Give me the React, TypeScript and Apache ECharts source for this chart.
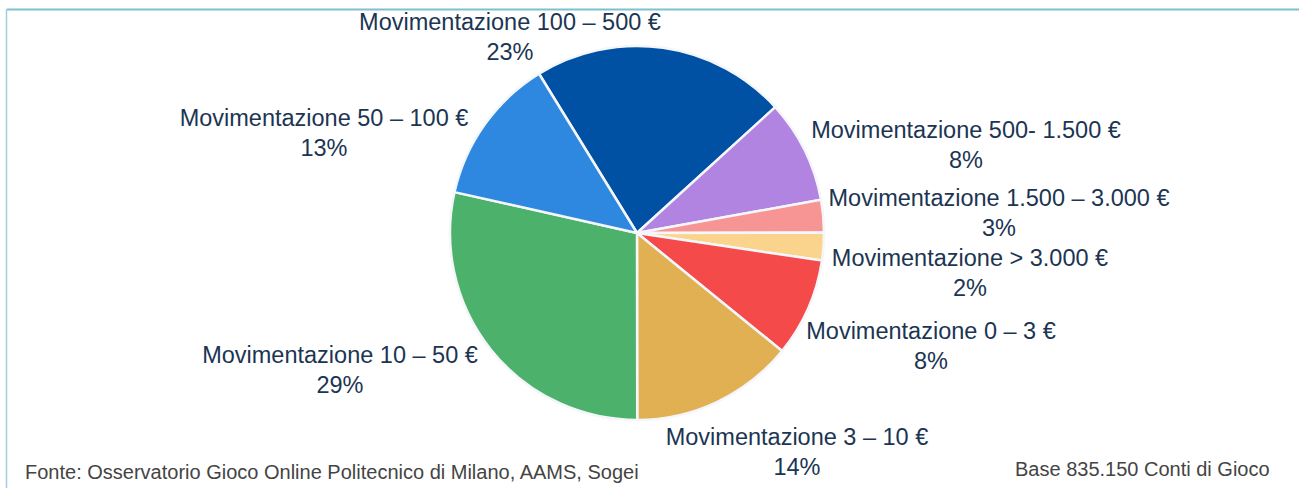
import React, { useEffect, useRef } from "react";
import * as echarts from "echarts";

const categories = [
  "Movimentazione 100 – 500 €",
  "Movimentazione 500- 1.500 €",
  "Movimentazione 1.500 – 3.000 €",
  "Movimentazione > 3.000 €",
  "Movimentazione 0 – 3 €",
  "Movimentazione 3 – 10 €",
  "Movimentazione 10 – 50 €",
  "Movimentazione 50 – 100 €",
];
const values = [22.0, 8.9, 2.8, 2.4, 8.5, 14.1, 28.5, 12.7];
// percentages as printed in the labels
const percentLabels = ["23%", "8%", "3%", "2%", "8%", "14%", "29%", "13%"];
const colors = ["#0050A4", "#B084E0", "#F79494", "#FAD48C", "#F54A4A", "#E0B052", "#4CB16A", "#2F88E0"];
const labelPos: [number, number][] = [
  [510, 37],
  [966, 145],
  [999, 213],
  [970, 273],
  [931, 346],
  [797, 452],
  [340, 370],
  [324, 133],
];
const sourceText = "Fonte: Osservatorio Gioco Online Politecnico di Milano, AAMS, Sogei";
const baseText = "Base 835.150 Conti di Gioco";

export default function App() {
  const ref = useRef<HTMLDivElement>(null);
  useEffect(() => {
    if (!ref.current) return;
    const chart = echarts.init(ref.current, undefined, { renderer: "svg" });
    chart.setOption({
      animation: false,
      backgroundColor: "#ffffff",
      textStyle: { fontFamily: "Liberation Sans, Arial, sans-serif" },
      graphic: [
        { type: "line", shape: { x1: 7, y1: 9.5, x2: 1299, y2: 9.5 }, style: { stroke: "#7fbfcf", lineWidth: 2 } },
        { type: "line", shape: { x1: 6.5, y1: 9, x2: 6.5, y2: 488 }, style: { stroke: "#9fd0dc", lineWidth: 1.5 } },
        {
          type: "text",
          left: 25,
          top: 462,
          style: { text: sourceText, fontSize: 20, fill: "#444444", fontFamily: "Liberation Sans, Arial" },
        },
        {
          type: "text",
          left: 1015,
          top: 459,
          style: { text: baseText, fontSize: 20, fill: "#444444", fontFamily: "Liberation Sans, Arial" },
        },
      ],
      series: [
        {
          type: "pie",
          center: [637, 233],
          radius: 187,
          startAngle: 121.6,
          clockwise: true,
          color: colors,
          itemStyle: { borderColor: "#f4f6fa", borderWidth: 2.5 },
          label: {
            show: true,
            position: "outside",
            formatter: (p: any) => `${p.name}\n${percentLabels[p.dataIndex]}`,
            fontSize: 23.5,
            lineHeight: 30,
            color: "#1b3553",
            align: "center",
            fontFamily: "Liberation Sans, Arial, sans-serif",
          },
          labelLine: { show: false },
          labelLayout: (params: any) => {
            const pos = labelPos[params.dataIndex];
            return { x: pos[0], y: pos[1], align: "center", verticalAlign: "middle", hideOverlap: false, moveOverlap: false };
          },
          emphasis: { disabled: true },
          data: categories.map((name, i) => ({ name, value: values[i] })),
        },
      ],
    });
    return () => chart.dispose();
  }, []);
  return <div ref={ref} style={{ position: "fixed", left: 0, top: 0, width: 1299, height: 488 }} />;
}
